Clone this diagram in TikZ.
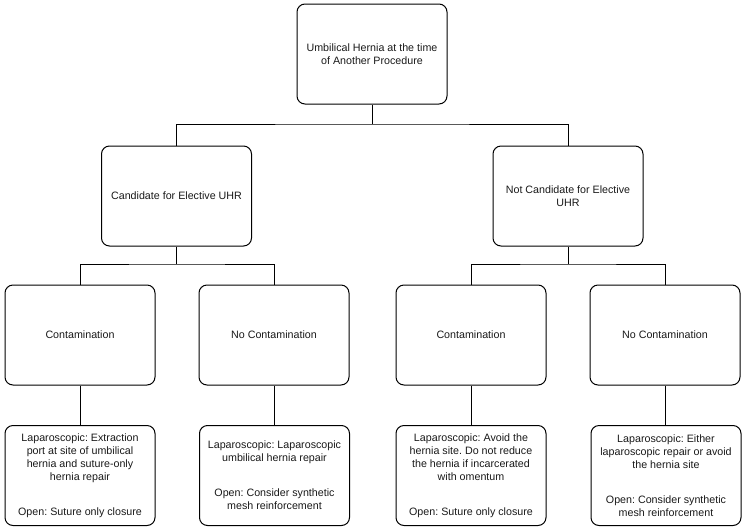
\documentclass[tikz,border=0pt]{standalone}
\usepackage{fontspec}
\setmainfont{Liberation Sans}
\frenchspacing
\begin{document}
\begin{tikzpicture}[x=1pt,y=-1pt,
  box/.style={draw=black, line width=1pt, rounded corners=8pt, minimum width=150pt, minimum height=100pt, inner sep=0pt, align=center, font=\fontsize{10.7}{13}\selectfont\frenchspacing, text=black!90},
  conn/.style={draw=black, line width=0.9pt}]
\useasboundingbox (0,0) rectangle (748,531);
\node[box] (top) at (372,54) {Umbilical Hernia at the time\\of Another Procedure};
\node[box] (cand) at (176.5,196) {Candidate for Elective UHR};
\node[box] (nc) at (568,196) {Not Candidate for Elective\\UHR};
\node[box] (c1) at (80,335) {Contamination};
\node[box] (n1) at (274,335) {No Contamination};
\node[box] (c2) at (471,335) {Contamination};
\node[box] (n2) at (665,335) {No Contamination};
\node[box] (t1) at (80,475.5) {Laparoscopic: Extraction\\port at site of umbilical\\hernia and suture-only\\hernia repair\\[22pt]Open: Suture only closure};
\node[box] (t2) at (274.5,475.5) {Laparoscopic: Laparoscopic\\umbilical hernia repair\\[22pt]Open: Consider synthetic\\mesh reinforcement};
\node[box] (t3) at (471,475.5) {Laparoscopic: Avoid the\\hernia site. Do not reduce\\the hernia if incarcerated\\with omentum\\[22pt]Open: Suture only closure};
\node[box] (t4) at (666,475.5) {Laparoscopic: Either\\laparoscopic repair or avoid\\the hernia site\\[22pt]Open: Consider synthetic\\mesh reinforcement};
\coordinate (b0) at (372,124);
\coordinate (b1) at (176.5,264);
\coordinate (b2) at (568,264);
\draw[conn] (top.south) -- (b0);
\draw[conn] (cand.north) |- (b0) -| (nc.north);
\draw[conn] (cand.south) -- (b1);
\draw[conn] (c1.north) |- (b1) -| (n1.north);
\draw[conn] (nc.south) -- (b2);
\draw[conn] (c2.north) |- (b2) -| (n2.north);
\draw[conn] (c1.south) -- (t1.north);
\draw[conn] (n1.south) -- (n1.south |- t2.north);
\draw[conn] (c2.south) -- (t3.north);
\draw[conn] (n2.south) -- (n2.south |- t4.north);
\end{tikzpicture}
\end{document}
